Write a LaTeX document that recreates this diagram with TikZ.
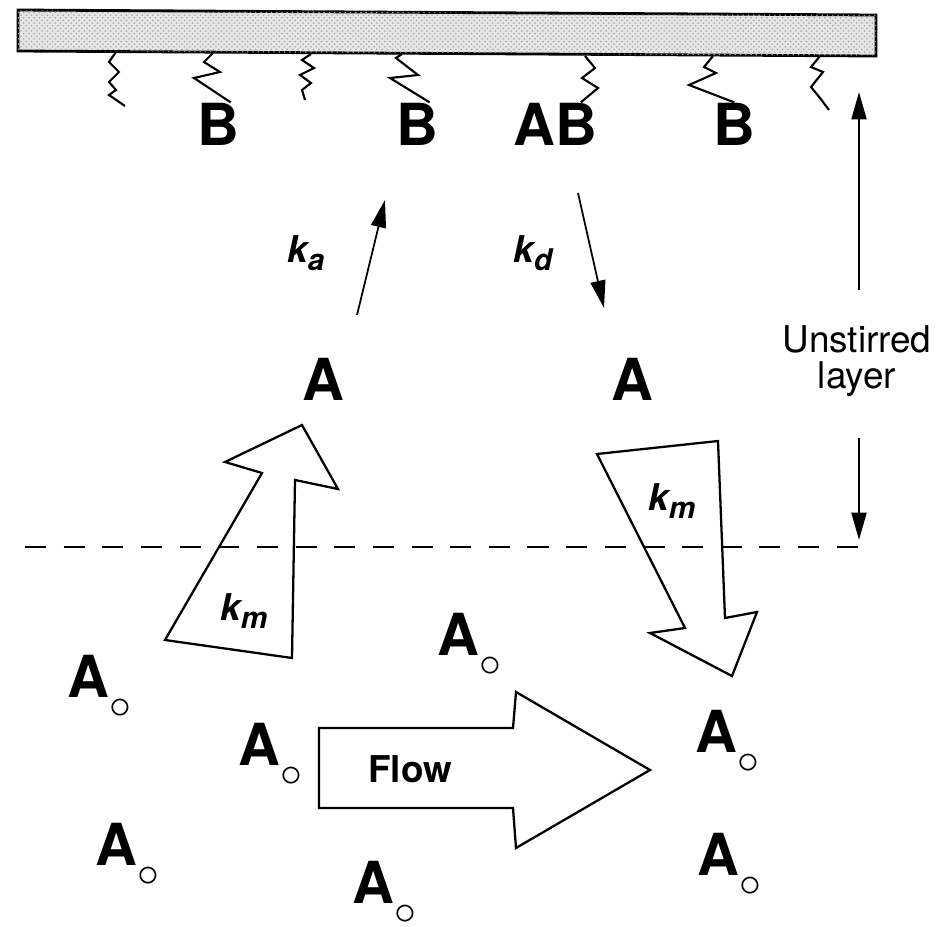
\documentclass[tikz,border=0pt]{standalone}
\usepackage{fontspec}
\setmainfont{TeX Gyre Heros}
\usetikzlibrary{arrows.meta,patterns}

\newcommand{\Asub}{A\raisebox{-12pt}{\fontsize{27}{27}\selectfont$\circ$}}
\newcommand{\krate}[1]{k\raisebox{-5pt}{\fontsize{17}{17}\selectfont #1}}

\begin{document}
\begin{tikzpicture}[x=0.02cm, y=-0.02cm,
    big/.style={font=\fontsize{33}{33}\selectfont\bfseries, inner sep=0pt, anchor=base west},
    rate/.style={font=\fontsize{21}{21}\selectfont\bfseries\itshape, inner sep=0pt, anchor=base west},
    layertext/.style={font=\fontsize{21}{21}\selectfont, inner sep=0pt, anchor=base},
    spring/.style={line width=1.2pt, line join=miter},
    fatarrow/.style={line width=1.3pt, line join=miter},
    ratearrow/.style={line width=1pt, -{Triangle[length=0.55cm,width=0.3cm]}}]
    \useasboundingbox (0,0) rectangle (951,927);

    % surface
    \draw[line width=1.6pt, fill=gray!20, postaction={pattern=crosshatch dots, pattern color=gray!70}]
        (18,10) -- (876,15) -- (876,56) -- (18,51) -- cycle;

    \node[big] (b1) at (197,145) {B};
    \node[big] (b2) at (396,145) {B};
    \node[big] (ab) at (513,145) {AB};
    \node[big] (b3) at (713,145) {B};
    \node[big] (a1) at (302,400) {A};
    \node[big] (a2) at (611,400) {A};

    % springs
    \draw[spring] (116,52) -- (109,62) -- (119,72) -- (109,82) -- (116,90) -- (109,95) -- (125,106);
    \draw[spring] (213,53) -- (204,62) -- (220,72) -- (194,78) -- (b1.60);
    \draw[spring] (311,54) -- (302,60) -- (314,68) -- (300,75) -- (311,83) -- (302,90) -- (305,100);
    \draw[spring] (402,54) -- (396,58) -- (418,75) -- (390,78) -- (b2.60);
    \draw[spring] (585,56) -- (595,68) -- (582,78) -- (598,88) -- (ab.40);
    \draw[spring] (713,56) -- (704,67) -- (716,73) -- (689,85) -- (b3.north);
    \draw[spring] (820,56) -- (811,67) -- (823,72) -- (811,87) -- (820,98) -- (829,110);

    % rates
    \coordinate (ka0) at (357,315);
    \coordinate (ka1) at (385,200);
    \coordinate (kd0) at (578,193);
    \coordinate (kd1) at (604,308);
    \draw[ratearrow] (ka0) -- (ka1);
    \draw[ratearrow] (kd0) -- (kd1);
    \node[rate] (ka) at (287,262) {\krate{a}};
    \node[rate] (kd) at (513,262) {\krate{d}};

    % unstirred layer
    \node[layertext] (unst) at (857,352) {Unstirred};
    \node[layertext] (lay) at (857,388) {layer};
    \coordinate (up0) at (859,290);
    \coordinate (up1) at (859,92);
    \coordinate (dn0) at (859,438);
    \coordinate (dn1) at (859,540);
    \draw[ratearrow, line width=1.3pt] (up0) -- (up1);
    \draw[ratearrow, line width=1.3pt] (dn0) -- (dn1);
    \coordinate (dl0) at (25,547);
    \coordinate (dl1) at (866,547);
    \draw[line width=1.5pt, dash pattern=on 12pt off 10pt] (dl0) -- (dl1);

    % mass transport
    \draw[fatarrow] (165,640) -- (292,658) -- (295,480) -- (338,489) -- (302,425) -- (225,462) -- (262,473) -- cycle;
    \node[rate] (kml) at (220,620) {\krate{m}};
    \draw[fatarrow] (597,454) -- (718,441) -- (725,618) -- (757,612) -- (732,676) -- (650,633) -- (685,628) -- cycle;
    \node[rate] (kmr) at (648,510) {\krate{m}};

    % flow
    \draw[fatarrow] (319,728) -- (513,728) -- (516,692) -- (650,770) -- (516,848) -- (513,808) -- (319,808) -- cycle;
    \node[font=\fontsize{21}{21}\selectfont\bfseries, inner sep=0pt, anchor=base west] (flow) at (368,782) {Flow};

    \foreach \pos [count=\i] in {(67,697),(437,655),(238,765),(695,752),(95,865),(352,903),(697,875)}
        \node[big] (ao\i) at \pos {\Asub};
\end{tikzpicture}
\end{document}
